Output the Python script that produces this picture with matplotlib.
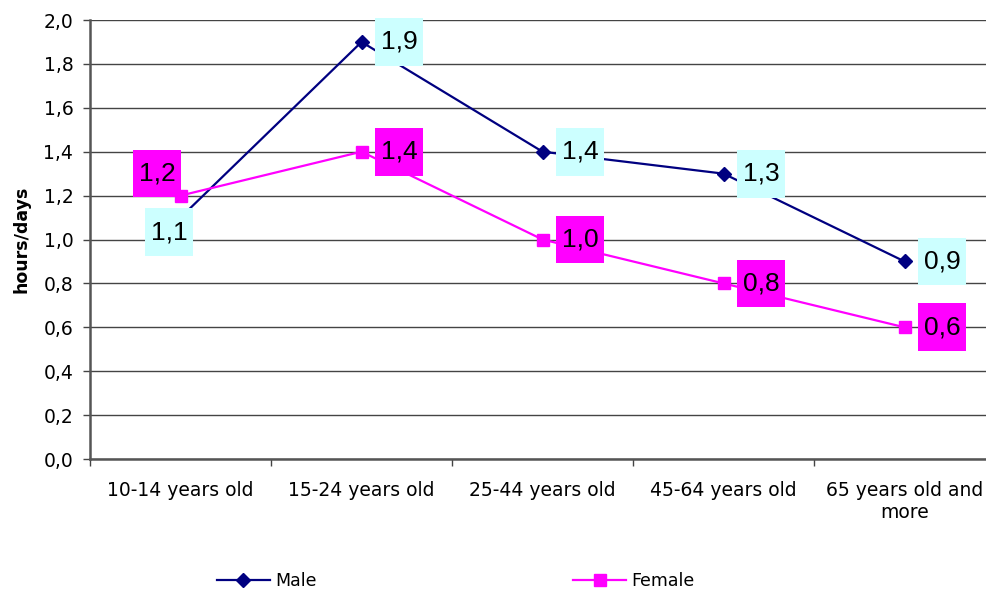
import numpy as np
import matplotlib.pyplot as plt
from matplotlib.path import Path

# Daily time by age group
age_groups = ["10-14 years old", "15-24 years old", "25-44 years old",
              "45-64 years old", "65 years old and\nmore"]
male = [1.1, 1.9, 1.4, 1.3, 0.9]
female = [1.2, 1.4, 1.0, 0.8, 0.6]

# label offsets (points) relative to each marker
male_offsets = [(-8.3, -10.4), (27, 0), (27, 0), (27, 0), (27, 0)]
female_offsets = [(-17, 16), (27, 0), (27, 0), (27, 0), (27, 0)]


def label_box(x0, y0, width, height, mutation_size):
    # rectangle with more padding above/below than left/right
    px, py = 0.22 * mutation_size, 0.45 * mutation_size
    return Path([(x0 - px, y0 - py), (x0 + width + px, y0 - py),
                 (x0 + width + px, y0 + height + py),
                 (x0 - px, y0 + height + py), (x0 - px, y0 - py)],
                closed=True)


fig = plt.figure(figsize=(9.87, 5.90), dpi=100)
ax = fig.add_axes([0.0912, 0.222, 0.917, 0.7441])

x = np.arange(len(age_groups))
ax.plot(x, male, color="#000080", lw=1.6, marker="D", ms=7,
        label="Male", zorder=3)
ax.plot(x, female, color="#FF00FF", lw=1.6, marker="s", ms=9,
        label="Female", zorder=3)

for vals, offsets, fc in [(male, male_offsets, "#CCFFFF"),
                          (female, female_offsets, "#FF00FF")]:
    for xi, v, (dx, dy) in zip(x, vals, offsets):
        ax.annotate(f"{v:.1f}".replace(".", ","), (xi, v), xytext=(dx, dy),
                    textcoords="offset points", ha="center", va="center",
                    fontsize=19, family="Liberation Sans", zorder=5,
                    bbox=dict(boxstyle=label_box, fc=fc, ec="none"))

ax.set_xlim(-0.5, len(age_groups) - 0.5)
ax.set_ylim(0, 2.0)
yt = np.arange(0, 2.01, 0.2)
ax.set_yticks(yt)
ax.set_yticklabels([f"{t:.1f}".replace(".", ",") for t in yt], fontsize=13.5)
ax.set_xticks(x)
ax.set_xticklabels(age_groups, fontsize=13.5, linespacing=1.2)
ax.set_xticks(np.arange(-0.5, len(age_groups)), minor=True)
ax.tick_params(axis="x", which="major", length=0, pad=16)
ax.tick_params(axis="x", which="minor", length=5, width=1, color="#444444")
ax.tick_params(axis="y", length=5, width=1, color="#444444", pad=7)

ax.grid(axis="y", color="#444444", lw=1)
ax.set_axisbelow(True)
for s in ["top", "right"]:
    ax.spines[s].set_visible(False)
for s in ["left", "bottom"]:
    ax.spines[s].set_color("#555555")
    ax.spines[s].set_linewidth(1.8)

ax.set_ylabel("hours/days", fontsize=12.5, fontweight="bold", labelpad=9)

fig.legend(loc="center left", bbox_to_anchor=(208 / 987, 1 - 581 / 590),
           ncol=2, frameon=False, fontsize=12.5, borderpad=0,
           handlelength=3.05, handletextpad=0.3, columnspacing=14.8)

fig.savefig("out.png", dpi=100)
